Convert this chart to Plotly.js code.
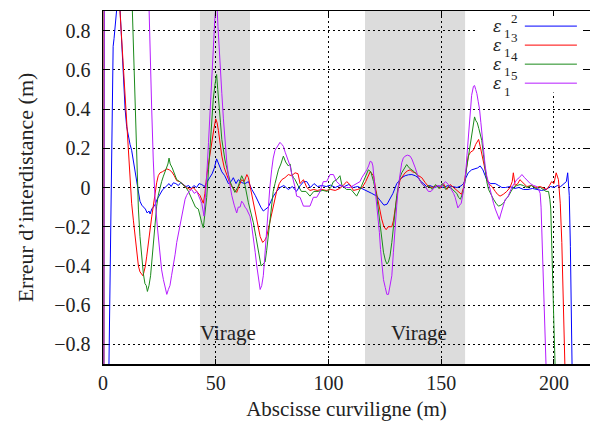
<!DOCTYPE html>
<html>
<head>
<meta charset="utf-8">
<script src="https://cdn.plot.ly/plotly-3.0.1.min.js"></script>
<style>html,body{margin:0;padding:0;background:#fff;}#chart{width:590px;height:421px;}</style>
</head>
<body>
<div id="chart"></div>
<script>
// ---- data ([abscisse, erreur]) ----
const seriesNames = ["ε12", "ε13", "ε14", "ε15"];
const seriesColors = ["#0000ff", "#ff0000", "#1a8a1a", "#b61cff"];
const supDigits = ["2", "3", "4", "5"];

const e2 = [[2.3,-1.2],[3.8,0.23],[4.5,0.72],[4.9,0.76],[5.3,0.8],[6.0,0.9],[6.8,1.0],[7.6,0.9],[8.3,0.74],[9.0,0.57],[9.8,0.4],[10.5,0.31],[11.2,0.26],[12.0,0.22],[12.7,0.19],[13.4,0.14],[14.2,0.08],[15.0,0.02],[15.7,-0.04],[16.4,-0.07],[17.2,-0.09],[17.9,-0.10],[18.8,-0.11],[19.6,-0.13],[20.4,-0.12],[20.9,-0.135],[21.6,-0.11],[22.3,-0.10],[23.0,-0.09],[24.0,-0.06],[25.3,-0.03],[26.5,-0.01],[27.5,0.0],[28.3,0.01],[29.3,0.02],[30.2,0.005],[31.2,0.024],[32.3,0.02],[33.4,0.01],[34.5,0.025],[35.6,0.015],[36.8,0.005],[38.0,0.01],[39.2,-0.005],[40.3,0.01],[41.5,0.0],[42.6,0.02],[43.8,0.015],[45.0,0.005],[46.2,0.025],[47.3,0.05],[48.4,0.07],[49.4,0.1],[50.4,0.146],[51.4,0.12],[52.7,0.08],[54.0,0.06],[55.6,0.02],[56.8,0.03],[57.8,0.05],[59.0,0.02],[60.0,0.04],[61.5,0.025],[63.0,0.02],[64.5,0.03],[66.0,-0.01],[67.5,-0.04],[68.9,-0.078],[70.0,-0.1],[71.1,-0.12],[72.2,-0.11],[73.3,-0.10],[74.5,-0.07],[75.6,-0.044],[77.0,-0.02],[78.5,0.0],[80.2,0.01],[82.2,-0.01],[84.0,0.005],[85.8,-0.02],[87.5,0.01],[89.0,0.03],[90.4,0.03],[92.0,0.0],[93.6,0.02],[95.2,0.005],[97.0,0.01],[99.0,0.005],[101,0.012],[103,0.0],[105,0.01],[107,0.005],[109,0.015],[111,0.0],[113,0.005],[115,-0.005],[117,-0.015],[119.2,-0.03],[121.4,-0.044],[123.2,-0.07],[124.6,-0.09],[126.0,-0.085],[127.3,-0.06],[128.6,-0.03],[130.3,0.02],[131.5,0.04],[132.5,0.05],[134,0.06],[135.5,0.065],[137,0.066],[138.5,0.06],[139.8,0.05],[141,0.03],[142.2,0.02],[143.5,0.005],[145,0.01],[147,0.0],[149,0.008],[151,0.0],[153,0.01],[155,0.005],[157,0.0],[158.8,0.008],[159.9,0.02],[161,0.05],[162,0.075],[163.5,0.09],[165,0.095],[166.2,0.1],[167.3,0.11],[168.5,0.09],[169.5,0.06],[170.5,0.03],[172,0.02],[174,0.02],[175.5,0.01],[176.9,0.0],[178.5,0.0],[180.5,0.005],[182.5,-0.005],[184.5,0.0],[186.5,-0.01],[188.5,-0.01],[190.5,-0.005],[192.5,-0.01],[194.5,-0.015],[196.5,-0.01],[198.5,0.005],[200,0.0],[201.5,0.01],[203,0.005],[204.5,0.02],[205.5,0.03],[206.1,0.075],[206.8,-0.04],[207.3,-0.3],[208.4,-1.2]];

const e3 = [[0.2,-3],[0.6,3],[7.0,1.0],[7.5,0.9],[9.0,0.62],[10.5,0.33],[11.6,0.12],[12.7,-0.08],[13.5,-0.17],[14.2,-0.25],[15.0,-0.33],[15.7,-0.40],[16.4,-0.43],[17.2,-0.44],[17.7,-0.45],[18.2,-0.43],[18.8,-0.40],[19.4,-0.35],[20.1,-0.28],[20.9,-0.21],[21.6,-0.15],[22.3,-0.095],[23.0,-0.03],[23.8,0.024],[24.5,0.06],[25.3,0.075],[26.3,0.08],[27.3,0.09],[28.3,0.095],[29.4,0.09],[30.5,0.08],[31.6,0.06],[32.7,0.035],[34.0,0.03],[35.6,0.015],[37.0,0.0],[38.6,-0.01],[40.0,0.0],[41.6,-0.02],[43.0,-0.04],[44.5,-0.08],[45.2,-0.03],[46.0,0.06],[47.1,0.15],[48.2,0.23],[49.2,0.3],[50.0,0.35],[50.6,0.33],[51.2,0.29],[52.0,0.22],[52.7,0.16],[53.8,0.1],[54.9,0.06],[56.0,0.03],[57.1,0.005],[58.2,-0.01],[59.3,-0.025],[60.4,0.01],[61.5,0.04],[62.6,0.03],[63.8,0.066],[64.5,0.05],[65.2,0.01],[66.3,-0.05],[67.4,-0.11],[68.5,-0.18],[69.7,-0.25],[70.8,-0.28],[71.7,-0.27],[72.6,-0.25],[73.7,-0.19],[74.8,-0.13],[76.0,-0.07],[77.0,-0.02],[78.2,0.02],[79.3,0.04],[80.7,0.05],[82.2,0.066],[83.7,0.06],[85.2,0.075],[86.5,0.07],[87.4,0.02],[88.9,0.04],[90.4,0.0],[91.8,-0.015],[93.5,-0.01],[95.0,-0.015],[97.0,-0.01],[99.0,-0.015],[101.0,-0.01],[103.0,-0.015],[105.0,-0.005],[106.5,0.01],[108.1,0.03],[109.5,0.015],[111.1,-0.015],[113.0,-0.01],[115.0,0.0],[116.5,0.03],[117.5,0.06],[118.5,0.08],[119.3,0.07],[120.0,0.06],[121.0,-0.01],[122.1,-0.08],[123.6,-0.16],[124.6,-0.2],[125.6,-0.215],[126.5,-0.2],[127.3,-0.2],[128.1,-0.2],[128.8,-0.17],[129.6,-0.1],[130.3,-0.044],[131.0,0.0],[131.8,0.04],[132.9,0.06],[134.0,0.075],[135.1,0.085],[136.2,0.09],[137.3,0.08],[138.5,0.075],[140.0,0.06],[141.4,0.05],[142.9,0.025],[144.3,0.005],[146.0,0.0],[148.0,0.01],[149.5,-0.005],[151.0,0.02],[152.5,-0.01],[154.0,0.015],[155.5,0.0],[156.6,-0.01],[157.6,-0.02],[159.0,-0.035],[159.9,0.0],[160.6,0.06],[161.3,0.11],[162.0,0.16],[163.0,0.18],[164.3,0.19],[165.3,0.22],[166.0,0.235],[166.6,0.245],[167.3,0.21],[168.0,0.17],[168.7,0.14],[169.4,0.1],[170.2,0.05],[171.0,0.02],[172.5,0.005],[174.0,-0.02],[175.0,-0.035],[176.1,-0.044],[177.5,-0.035],[179.1,-0.02],[180.5,0.0],[181.5,0.03],[182.0,0.075],[182.8,0.01],[184.0,0.02],[184.9,0.04],[186.5,0.02],[188.0,0.005],[190.0,0.01],[192.0,0.0],[193.9,0.005],[195.5,-0.005],[196.8,-0.01],[198.0,0.01],[199.0,0.03],[200.0,0.02],[201.0,0.075],[202.0,0.04],[202.8,-0.08],[203.5,-0.28],[204.3,-0.6],[205.0,-0.9],[205.5,-1.2]];

const e4 = [[0.2,-3],[0.7,3],[12.5,1.1],[13.0,0.9],[13.4,0.7],[14.0,0.45],[14.5,0.25],[15.1,0.06],[15.7,-0.11],[16.4,-0.25],[17.2,-0.37],[17.9,-0.44],[18.6,-0.49],[19.2,-0.5],[19.7,-0.53],[20.4,-0.5],[21.1,-0.45],[21.7,-0.37],[22.3,-0.28],[23.0,-0.19],[23.8,-0.095],[24.5,-0.04],[25.3,0.007],[26.0,0.03],[26.8,0.058],[27.5,0.08],[28.3,0.11],[28.8,0.12],[29.3,0.15],[29.8,0.12],[30.7,0.1],[31.7,0.07],[32.7,0.04],[34.0,0.03],[35.6,0.015],[36.8,0.0],[37.9,-0.02],[39.0,-0.05],[40.0,-0.08],[41.0,-0.1],[42.3,-0.11],[43.0,-0.146],[43.8,-0.18],[44.5,-0.205],[45.2,-0.14],[46.0,-0.05],[46.8,0.09],[47.5,0.23],[48.2,0.34],[48.9,0.45],[49.6,0.52],[50.4,0.576],[50.9,0.5],[51.5,0.43],[52.1,0.33],[52.7,0.245],[53.4,0.19],[54.1,0.14],[54.9,0.1],[55.6,0.06],[56.4,0.03],[57.1,0.01],[58.5,-0.025],[60.0,0.007],[61.5,0.06],[62.3,0.04],[63.0,0.01],[64.5,-0.078],[65.6,-0.13],[66.7,-0.18],[67.8,-0.25],[68.9,-0.316],[69.5,-0.37],[70.1,-0.40],[71.0,-0.39],[71.9,-0.38],[72.6,-0.32],[73.3,-0.25],[74.0,-0.16],[74.8,-0.08],[75.5,-0.02],[76.3,0.02],[77.0,0.06],[77.8,0.09],[78.9,0.12],[80.0,0.16],[81.0,0.13],[82.2,0.11],[83.0,0.12],[83.7,0.07],[84.5,0.05],[85.2,0.04],[86.5,0.01],[88.0,-0.02],[90.0,-0.02],[91.8,-0.044],[93.5,-0.02],[95.5,-0.02],[97.5,-0.015],[99.5,-0.02],[101.0,0.0],[102.2,0.03],[103.7,0.04],[105.1,0.06],[106.0,0.01],[108.0,-0.01],[110.0,-0.01],[112.5,-0.044],[114.0,-0.01],[115.5,0.03],[116.8,0.07],[117.7,0.09],[118.8,0.08],[120.0,0.03],[121.4,-0.044],[122.2,-0.12],[122.9,-0.2],[123.6,-0.27],[124.4,-0.33],[125.2,-0.37],[125.9,-0.39],[126.6,-0.38],[127.3,-0.35],[128.1,-0.28],[128.8,-0.2],[129.5,-0.11],[130.3,-0.04],[131.0,0.007],[131.7,0.05],[132.5,0.075],[133.6,0.1],[134.7,0.117],[135.8,0.1],[137.0,0.09],[138.1,0.08],[139.2,0.066],[140.3,0.04],[141.4,0.02],[143.0,0.0],[144.5,0.01],[146.0,-0.01],[147.5,0.015],[149.0,-0.005],[150.5,0.02],[152.0,-0.01],[153.5,0.01],[155.0,-0.01],[156.2,-0.02],[156.9,-0.03],[157.7,-0.05],[158.5,-0.06],[159.5,-0.03],[160.6,0.03],[161.3,0.1],[162.1,0.16],[162.9,0.22],[163.6,0.26],[164.3,0.31],[164.8,0.36],[165.4,0.34],[166.0,0.33],[166.7,0.3],[167.3,0.27],[168.0,0.24],[168.7,0.17],[169.5,0.09],[170.2,0.03],[171.0,-0.01],[172.2,-0.04],[173.2,-0.06],[174.3,-0.08],[175.4,-0.095],[176.5,-0.09],[177.6,-0.08],[178.7,-0.06],[179.8,-0.044],[181.0,-0.02],[182.0,0.0],[183.5,0.01],[185.0,0.015],[186.5,0.01],[188.0,0.0],[190.0,0.01],[192.0,-0.005],[194.0,0.0],[195.5,-0.01],[196.5,-0.02],[197.6,-0.02],[198.2,-0.06],[198.6,-0.11],[199.0,-0.25],[199.5,-0.45],[200.0,-0.7],[200.5,-0.9],[201.0,-1.2]];

const e5 = [[0.2,-3],[0.8,3],[20.0,1.1],[20.4,0.9],[20.9,0.65],[21.6,0.4],[22.3,0.14],[23.0,-0.04],[24.1,-0.2],[25.3,-0.35],[26.0,-0.42],[26.8,-0.47],[27.5,-0.51],[28.3,-0.545],[29.0,-0.52],[29.7,-0.5],[30.4,-0.45],[31.2,-0.4],[32.0,-0.34],[32.7,-0.28],[33.5,-0.23],[34.2,-0.18],[35.0,-0.13],[35.6,-0.095],[36.4,-0.06],[37.1,-0.04],[38.2,-0.02],[39.3,-0.01],[40.5,-0.03],[41.6,-0.02],[42.3,-0.04],[43.0,-0.05],[43.8,-0.08],[44.8,-0.146],[45.4,-0.05],[46.0,0.06],[46.8,0.23],[47.5,0.4],[48.2,0.58],[48.9,0.74],[49.6,0.86],[50.1,0.93],[50.6,0.92],[51.0,0.82],[51.5,0.7],[52.1,0.58],[52.7,0.48],[53.4,0.35],[54.1,0.23],[54.9,0.13],[55.6,0.06],[56.4,0.0],[57.1,-0.04],[58.2,-0.09],[59.3,-0.13],[60.0,-0.1],[60.8,-0.1],[61.5,-0.07],[62.2,-0.08],[63.0,-0.1],[63.7,-0.11],[64.5,-0.13],[65.2,-0.146],[66.0,-0.2],[66.7,-0.25],[67.5,-0.33],[68.2,-0.4],[69.0,-0.47],[69.7,-0.52],[70.4,-0.5],[71.1,-0.45],[71.7,-0.36],[72.2,-0.28],[72.8,-0.18],[73.3,-0.08],[74.0,0.0],[74.8,0.09],[75.5,0.15],[76.3,0.19],[77.4,0.21],[78.5,0.23],[79.3,0.22],[80.0,0.21],[80.8,0.18],[81.5,0.16],[82.2,0.13],[83.0,0.11],[83.7,0.07],[84.4,0.04],[85.2,0.0],[85.9,-0.044],[87.4,-0.05],[88.9,-0.095],[90.4,-0.095],[91.8,-0.095],[93.3,-0.05],[94.8,-0.05],[96.3,-0.02],[97.7,0.03],[99.2,0.03],[100.7,0.066],[102.2,0.066],[103.6,0.03],[105.0,0.015],[106.5,0.005],[108.0,0.0],[109.5,0.0],[111.0,0.01],[112.5,0.02],[114.0,0.03],[114.8,0.05],[116.0,0.07],[117.0,0.09],[117.8,0.11],[118.5,0.134],[119.2,0.13],[119.7,0.11],[120.2,0.05],[120.7,-0.01],[121.4,-0.08],[122.1,-0.146],[122.6,-0.23],[123.1,-0.316],[123.7,-0.39],[124.4,-0.47],[125.2,-0.51],[125.9,-0.545],[126.6,-0.545],[127.3,-0.49],[128.1,-0.45],[128.8,-0.33],[129.5,-0.2],[130.3,-0.09],[131.0,0.007],[131.7,0.07],[132.5,0.126],[133.2,0.15],[134.0,0.16],[135.1,0.165],[136.2,0.16],[137.0,0.145],[137.7,0.126],[138.5,0.1],[139.2,0.075],[140.3,0.04],[141.4,0.02],[142.9,0.005],[144.3,-0.02],[145.5,-0.02],[147.0,0.0],[148.5,0.01],[150.0,0.005],[151.9,0.03],[153.2,0.015],[154.7,-0.01],[155.5,-0.03],[156.2,-0.05],[157.4,-0.104],[158.2,-0.09],[158.9,-0.08],[159.8,-0.02],[160.6,0.04],[161.2,0.13],[161.8,0.23],[162.3,0.32],[162.8,0.4],[163.5,0.47],[164.3,0.516],[164.8,0.52],[165.3,0.5],[165.8,0.48],[166.4,0.44],[167.0,0.40],[167.6,0.33],[168.2,0.26],[168.7,0.18],[169.5,0.11],[170.2,0.06],[171.0,0.02],[171.7,-0.01],[172.5,-0.05],[173.2,-0.08],[174.0,-0.11],[174.7,-0.13],[175.3,-0.15],[175.8,-0.163],[176.3,-0.14],[176.9,-0.12],[177.6,-0.09],[178.4,-0.06],[179.5,-0.05],[180.5,-0.02],[181.3,0.0],[182.4,0.02],[183.5,0.04],[184.6,0.05],[185.8,0.066],[187.0,0.05],[188.0,0.04],[189.5,0.02],[191.0,0.01],[192.4,0.005],[193.2,-0.01],[193.9,-0.03],[194.3,-0.1],[194.6,-0.2],[195.1,-0.36],[195.6,-0.54],[196.2,-0.72],[196.8,-0.9],[197.3,-1.2]];

const virageZones = [[43.0, 65.2], [116.2, 160.6]];
const virageLabel = "Virage";
const xTicks = [0, 50, 100, 150, 200];
const xTitle = "Abscisse curviligne (m)";
const yTitle = "Erreur d’interdistance (m)";

// ---- build ----
const allSeries = [e2, e3, e4, e5];
const FONT = "Liberation Serif, Times New Roman, serif";
const EPS_FONT = "DejaVu Serif, Liberation Serif, serif";
const traces = allSeries.map((s, i) => ({
  type: "scatter", mode: "lines",
  x: s.map(p => p[0]), y: s.map(p => p[1]),
  name: seriesNames[i], showlegend: false,
  line: {color: seriesColors[i], width: 1},
  hoverinfo: "skip"
}));

const shapes = [];
virageZones.forEach(z => shapes.push({
  type: "rect", xref: "x", yref: "paper", x0: z[0], x1: z[1], y0: 0, y1: 1,
  fillcolor: "#dcdcdc", line: {width: 0}, layer: "below"
}));
// legend box (hides the grid behind the key)
shapes.push({type: "rect", xref: "x", yref: "y", x0: 165.9, x1: 212.9, y0: 0.485, y1: 0.9,
  fillcolor: "#ffffff", line: {width: 0}, layer: "between"});
const annotations = [];
const rowStep = 0.097;
seriesColors.forEach((c, i) => {
  const yc = 0.823 - i * rowStep;
  shapes.push({type: "line", xref: "x", yref: "y", x0: 187.1, x1: 210.2, y0: yc, y1: yc,
    line: {color: c, width: 1}, layer: "above"});
  annotations.push({x: 174.8, y: yc - 0.004, xref: "x", yref: "y", text: "<i>ε</i>", showarrow: false,
    font: {family: EPS_FONT, size: 16, color: "#222"}, xanchor: "center", yanchor: "middle"});
  annotations.push({x: 182.4, y: yc + 0.040, xref: "x", yref: "y", text: supDigits[i], showarrow: false,
    font: {family: FONT, size: 13, color: "#222"}, xanchor: "center", yanchor: "middle"});
  annotations.push({x: 179.3, y: yc - 0.040, xref: "x", yref: "y", text: "1", showarrow: false,
    font: {family: FONT, size: 13, color: "#222"}, xanchor: "center", yanchor: "middle"});
});
virageZones.forEach((z, i) => annotations.push({
  x: i === 0 ? 55.3 : 140.0, y: -0.742, xref: "x", yref: "y", text: virageLabel, showarrow: false,
  font: {family: FONT, size: 21, color: "#222"}, xanchor: "center", yanchor: "middle"
}));

const layout = {
  width: 590, height: 421,
  margin: {l: 103, r: 0, t: 11, b: 57, pad: 0},
  paper_bgcolor: "#ffffff", plot_bgcolor: "#ffffff",
  font: {family: FONT, size: 19, color: "#222"},
  showlegend: false,
  xaxis: {
    range: [0, 216], tickvals: xTicks, ticktext: xTicks.map(String),
    ticks: "inside", ticklen: 5, tickwidth: 1, tickcolor: "#000",
    showline: true, linecolor: "#000", linewidth: 1.5, mirror: "allticks",
    showgrid: true, gridcolor: "#000", griddash: "2px,3px", gridwidth: 1,
    zeroline: false, ticklabelstandoff: 0,
    tickfont: {family: FONT, size: 20, color: "#222"},
    title: {text: xTitle, font: {family: FONT, size: 21, color: "#222"}, standoff: 20}
  },
  yaxis: {
    range: [-0.9, 0.9], dtick: 0.2, tick0: 0,
    ticks: "inside", ticklen: 5, tickwidth: 1, tickcolor: "#000",
    showline: true, linecolor: "#000", linewidth: 1.5, mirror: "allticks",
    showgrid: true, gridcolor: "#000", griddash: "2px,3px", gridwidth: 1,
    zeroline: false, ticklabelstandoff: 7,
    tickfont: {family: FONT, size: 20, color: "#222"},
    title: {text: yTitle, font: {family: FONT, size: 22, color: "#222"}, standoff: 14}
  },
  shapes: shapes,
  annotations: annotations
};

Plotly.newPlot("chart", traces, layout, {staticPlot: true, displayModeBar: false});
</script>
</body>
</html>
